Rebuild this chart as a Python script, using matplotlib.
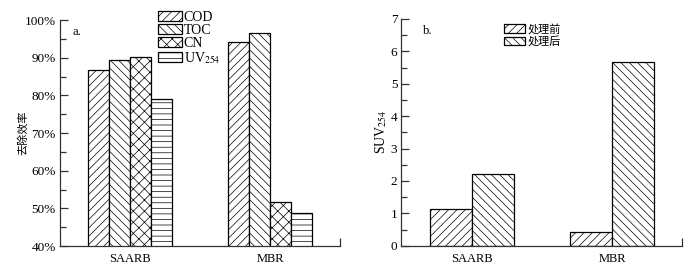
import matplotlib.pyplot as plt
import numpy as np
from matplotlib.ticker import MultipleLocator, FuncFormatter

plt.rcParams['font.family'] = ['Liberation Serif', 'Noto Sans CJK SC']
plt.rcParams['font.size'] = 9
plt.rcParams['hatch.linewidth'] = 0.5
plt.rcParams['mathtext.fontset'] = 'stix'

# panel a: removal efficiency (%)
groups = ["SAARB", "MBR"]
removal_labels = ["COD", "TOC", "CN", r"UV$_{254}$"]
cod = [86.6, 94.2]
toc = [89.3, 96.6]
cn = [90.3, 51.7]
uv254 = [79.0, 48.7]

# panel b: SUV254
suv_labels = ["处理前", "处理后"]
suv_before = [1.13, 0.41]
suv_after = [2.21, 5.66]

fig = plt.figure(figsize=(6.97, 2.74), dpi=100)
ax1 = fig.add_axes([0.086, 0.102, 0.402, 0.825])
ax2 = fig.add_axes([0.576, 0.103, 0.403, 0.828])


def style_axis(ax):
    ax.spines['top'].set_visible(False)
    ax.spines['right'].set_visible(False)
    for s in ['left', 'bottom']:
        ax.spines[s].set_linewidth(0.9)
        ax.spines[s].set_color('#333333')
    ax.tick_params(axis='y', which='major', direction='in', length=6, width=0.9,
                   color='#333333', pad=3, labelsize=9.5)
    ax.tick_params(axis='y', which='minor', direction='in', length=4, width=0.9, color='#333333')
    ax.tick_params(axis='x', which='major', length=0, pad=5, labelsize=9)
    ax.tick_params(axis='x', which='minor', direction='in', length=6, width=0.9, color='#333333')
    ax.set_xlim(-0.5, 1.5)
    ax.set_xticks([0, 1])
    ax.set_xticklabels(groups)
    ax.set_xticks([1.5], minor=True)


# panel a
x = np.arange(len(groups))
w = 0.15
hatches = ['////', '\\\\\\\\', 'xxx', '---']
for i, (vals, lab, h) in enumerate(zip([cod, toc, cn, uv254], removal_labels, hatches)):
    ax1.bar(x + (i - 1.5) * w, vals, width=w, bottom=0, color='white',
            edgecolor='black', linewidth=0.9, hatch=h, label=lab)
ax1.set_ylim(40, 100)
ax1.yaxis.set_major_locator(MultipleLocator(10))
ax1.yaxis.set_minor_locator(MultipleLocator(5))
ax1.yaxis.set_major_formatter(FuncFormatter(lambda v, p: "%d%%" % v))
style_axis(ax1)
ax1.set_ylabel("去除效率", family=['Noto Sans CJK SC'], fontsize=8)
ax1.yaxis.set_label_coords(-0.112, 0.5)
ax1.text(0.045, 0.975, "a.", transform=ax1.transAxes, va='top', ha='left', fontsize=9)
ax1.legend(loc='upper left', bbox_to_anchor=(0.33, 1.065), frameon=False,
           handlelength=1.75, handleheight=0.75, handletextpad=0.1,
           labelspacing=0.0, borderaxespad=0, fontsize=10)

# panel b
w2 = 0.3
ax2.bar(x - w2 / 2, suv_before, width=w2, color='white', edgecolor='black',
        linewidth=0.9, hatch='////', label=suv_labels[0])
ax2.bar(x + w2 / 2, suv_after, width=w2, color='white', edgecolor='black',
        linewidth=0.9, hatch='\\\\\\\\', label=suv_labels[1])
ax2.set_ylim(0, 7)
ax2.yaxis.set_major_locator(MultipleLocator(1))
ax2.yaxis.set_minor_locator(MultipleLocator(0.5))
style_axis(ax2)
ax2.set_ylabel(r"SUV$_{254}$", fontsize=10)
ax2.yaxis.set_label_coords(-0.045, 0.5)
ax2.text(0.075, 0.975, "b.", transform=ax2.transAxes, va='top', ha='left', fontsize=9)
ax2.legend(loc='upper left', bbox_to_anchor=(0.35, 1.0), frameon=False,
           handlelength=1.9, handleheight=0.75, handletextpad=0.2,
           labelspacing=0.12, borderaxespad=0,
           prop={'family': ['Noto Sans CJK SC'], 'size': 8})

fig.savefig("out.png", dpi=100)
